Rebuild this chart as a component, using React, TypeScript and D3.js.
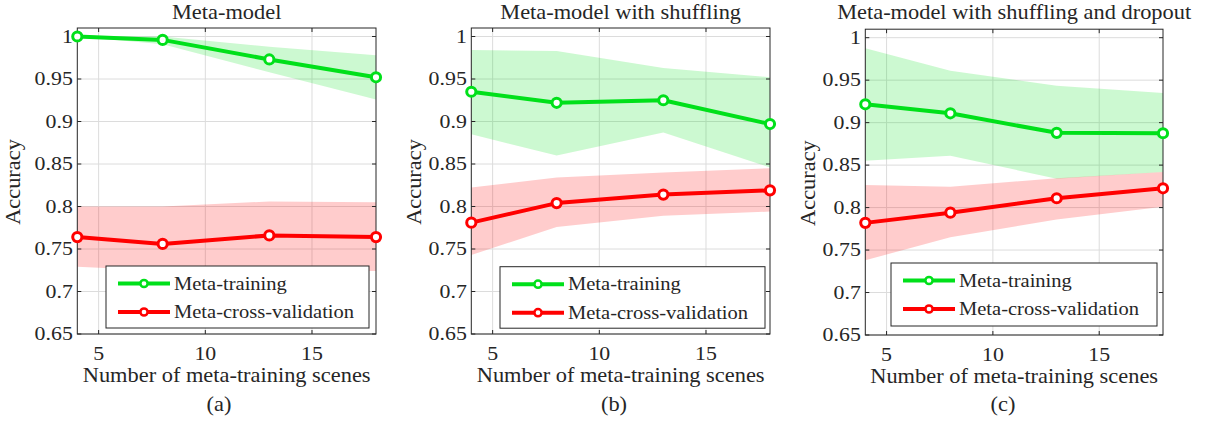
import React from 'react';
import * as d3 from 'd3';

// ---------- data ----------
const xValues = [4, 8, 13, 18];
const xTicks = [5, 10, 15];
const yTicks = [0.65, 0.7, 0.75, 0.8, 0.85, 0.9, 0.95, 1];
const yTickLabels = ['0.65', '0.7', '0.75', '0.8', '0.85', '0.9', '0.95', '1'];
const titles = ['Meta-model', 'Meta-model with shuffling', 'Meta-model with shuffling and dropout'];
const subLabels = ['(a)', '(b)', '(c)'];
const seriesNames = ['Meta-training', 'Meta-cross-validation'];
const xLabel = 'Number of meta-training scenes';
const yLabel = 'Accuracy';

// panel (a)
const trainMeanA = [1.0, 0.996, 0.973, 0.952];
const trainUpperA = [1.0, 1.0, 0.988, 0.978];
const trainLowerA = [1.0, 0.991, 0.958, 0.926];
const cvMeanA = [0.764, 0.756, 0.766, 0.764];
const cvUpperA = [0.8, 0.8, 0.806, 0.805];
const cvLowerA = [0.729, 0.7245, 0.725, 0.724];

// panel (b)
const trainMeanB = [0.935, 0.922, 0.925, 0.897];
const trainUpperB = [0.984, 0.983, 0.963, 0.952];
const trainLowerB = [0.885, 0.86, 0.887, 0.846];
const cvMeanB = [0.781, 0.804, 0.814, 0.819];
const cvUpperB = [0.8225, 0.834, 0.84, 0.845];
const cvLowerB = [0.743, 0.776, 0.789, 0.794];

// panel (c)
const trainMeanC = [0.9216, 0.911, 0.888, 0.8875];
const trainUpperC = [0.9875, 0.961, 0.9435, 0.935];
const trainLowerC = [0.855, 0.861, 0.834, 0.842];
const cvMeanC = [0.782, 0.794, 0.811, 0.8227];
const cvUpperC = [0.8266, 0.8246, 0.8345, 0.842];
const cvLowerC = [0.738, 0.765, 0.786, 0.801];

// ---------- layout ----------
const W = 1207;
const H = 422;
const FONT = '"Liberation Serif", "Times New Roman", serif';
const SX = 1.12;
const GREEN = '#00e01a';
const RED = '#ff0000';
const AXIS = '#262626';
const GRID = '#dcdcdc';

const panels = [
  {
    left: 77.3, right: 376, top: 28, bottom: 334,
    train: [trainMeanA, trainUpperA, trainLowerA], cv: [cvMeanA, cvUpperA, cvLowerA],
    legend: { x: 106, y: 266, w: 263, h: 62 }, yLabX: 20, subX: 219,
  },
  {
    left: 471.3, right: 770, top: 28, bottom: 334,
    train: [trainMeanB, trainUpperB, trainLowerB], cv: [cvMeanB, cvUpperB, cvLowerB],
    legend: { x: 500, y: 266.7, w: 265, h: 61.5 }, yLabX: 420.5, subX: 614,
  },
  {
    left: 865.3, right: 1163, top: 29.2, bottom: 335,
    train: [trainMeanC, trainUpperC, trainLowerC], cv: [cvMeanC, cvUpperC, cvLowerC],
    legend: { x: 891, y: 263, w: 266, h: 63 }, yLabX: 814.5, subX: 1003,
  },
];

function SText({ x, y, size, anchor = 'middle', rotate = 0, sx = SX, children }: any) {
  return (
    <text
      transform={`translate(${x},${y}) rotate(${rotate}) scale(${sx},1)`}
      fontFamily={FONT}
      fontSize={size}
      textAnchor={anchor}
      fill={AXIS}
    >
      {children}
    </text>
  );
}

function Panel({ p, i }: any) {
  const x = d3.scaleLinear().domain([4, 18]).range([p.left, p.right]);
  const y = d3.scaleLinear().domain([0.65, 1.01]).range([p.bottom, p.top]);
  const idx = d3.range(xValues.length);
  const area = (up: number[], lo: number[]) =>
    d3.area<number>().x((k) => x(xValues[k])).y0((k) => y(lo[k])).y1((k) => y(up[k]))(idx) as string;
  const line = (m: number[]) =>
    d3.line<number>().x((k) => x(xValues[k])).y((k) => y(m[k]))(idx) as string;
  const cx = (p.left + p.right) / 2;
  const tk = 4;
  const series = [
    { data: p.train, color: GREEN },
    { data: p.cv, color: RED },
  ];
  const lg = p.legend;
  return (
    <g>
      {xTicks.map((t) => (
        <line key={'gx' + t} x1={x(t)} x2={x(t)} y1={p.top} y2={p.bottom} stroke={GRID} strokeWidth={1} />
      ))}
      {yTicks.map((t) => (
        <line key={'gy' + t} x1={p.left} x2={p.right} y1={y(t)} y2={y(t)} stroke={GRID} strokeWidth={1} />
      ))}
      {series.map((s, j) => (
        <path key={'b' + j} d={area(s.data[1], s.data[2])} fill={s.color} fillOpacity={0.2} stroke="none" />
      ))}
      <rect x={p.left} y={p.top} width={p.right - p.left} height={p.bottom - p.top} fill="none" stroke={AXIS} strokeWidth={1} />
      {xTicks.map((t) => (
        <g key={'tx' + t}>
          <line x1={x(t)} x2={x(t)} y1={p.bottom} y2={p.bottom - tk} stroke={AXIS} />
          <line x1={x(t)} x2={x(t)} y1={p.top} y2={p.top + tk} stroke={AXIS} />
          <SText x={x(t)} y={p.bottom + 25.5} size={19.5}>{String(t)}</SText>
        </g>
      ))}
      {yTicks.map((t, k) => (
        <g key={'ty' + t}>
          <line x1={p.left} x2={p.left + tk} y1={y(t)} y2={y(t)} stroke={AXIS} />
          <line x1={p.right} x2={p.right - tk} y1={y(t)} y2={y(t)} stroke={AXIS} />
          <SText x={p.left - 4.5} y={y(t) + 6.3} size={19.5} anchor="end">{yTickLabels[k]}</SText>
        </g>
      ))}
      {series.map((s, j) => (
        <path key={'l' + j} d={line(s.data[0])} fill="none" stroke={s.color} strokeWidth={4} strokeLinejoin="round" />
      ))}
      {series.map((s, j) =>
        xValues.map((xv, k) => (
          <circle key={'m' + j + k} cx={x(xv)} cy={y(s.data[0][k])} r={4.6} fill="#fff" stroke={s.color} strokeWidth={3} />
        ))
      )}
      <SText x={cx} y={18.5} size={20}>{titles[i]}</SText>
      <SText x={cx} y={p.bottom + 47.5} size={20}>{xLabel}</SText>
      <SText x={p.subX} y={410.5} size={20}>{subLabels[i]}</SText>
      <SText x={p.yLabX} y={(p.top + p.bottom) / 2 + 1} size={20} rotate={-90}>{yLabel}</SText>
      <rect x={lg.x} y={lg.y} width={lg.w} height={lg.h} fill="#fff" stroke={AXIS} strokeWidth={1} />
      {series.map((s, j) => {
        const cy = lg.y + 17.5 + j * 28.5;
        return (
          <g key={'lg' + j}>
            <line x1={lg.x + 12} x2={lg.x + 64} y1={cy} y2={cy} stroke={s.color} strokeWidth={4} />
            <circle cx={lg.x + 38} cy={cy} r={3.6} fill="#fff" stroke={s.color} strokeWidth={2.5} />
            <SText x={lg.x + 68} y={cy + 6} size={18.5} sx={1.11} anchor="start">{seriesNames[j]}</SText>
          </g>
        );
      })}
    </g>
  );
}

export default function App() {
  return (
    <svg
      width={W}
      height={H}
      viewBox={`0 0 ${W} ${H}`}
      style={{ position: 'absolute', left: 0, top: 0, background: '#fff' }}
    >
      <rect x={0} y={0} width={W} height={H} fill="#fff" />
      {panels.map((p, i) => (
        <Panel key={i} p={p} i={i} />
      ))}
    </svg>
  );
}
